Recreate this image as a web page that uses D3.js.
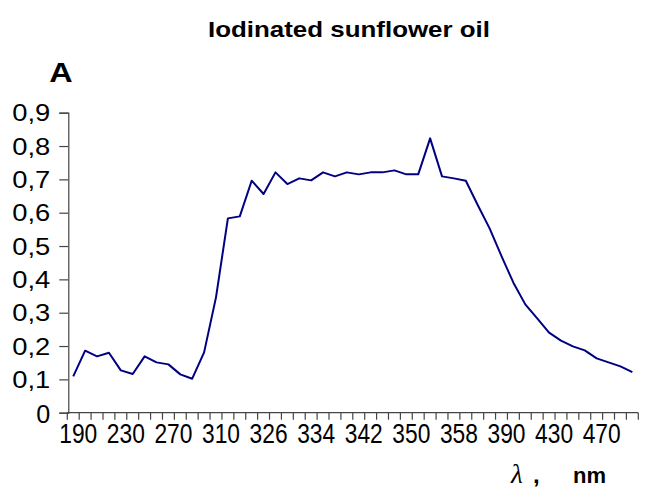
<!DOCTYPE html>
<html>
<head>
<meta charset="utf-8">
<script src="https://cdn.jsdelivr.net/npm/d3@7"></script>
<style>
  body { margin: 0; background: #fff; }
  svg text { font-family: "Liberation Sans", Arial, sans-serif; fill: #000; }
</style>
</head>
<body>
<div id="chart"></div>
<script>
// wavelengths (nm) - one category per measurement
const wavelengths = [190, 200, 210, 220, 230, 240, 250, 260, 270, 280, 290, 300,
    310, 314, 318, 322, 326, 328, 330, 332, 334, 336, 338, 340, 342, 344, 346, 348,
    350, 352, 354, 356, 358, 366, 374, 382, 390, 400, 410, 420, 430, 440, 450, 460,
    470, 480, 490, 500]

// absorbance
const absorbance = [0.109, 0.186, 0.169, 0.180, 0.127, 0.116, 0.169, 0.151, 0.145, 0.115,
    0.102, 0.181, 0.346, 0.583, 0.589, 0.696, 0.656, 0.721, 0.686, 0.703, 0.697, 0.721,
    0.709, 0.721, 0.715, 0.721, 0.721, 0.727, 0.715, 0.715, 0.823, 0.709, 0.703, 0.696,
    0.623, 0.553, 0.470, 0.390, 0.325, 0.283, 0.240, 0.216, 0.199, 0.187, 0.163, 0.151,
    0.139, 0.122]

const xTickLabels = [190, 230, 270, 310, 326, 334, 342, 350, 358, 390, 430, 470]
const yTicks = [0, 0.1, 0.2, 0.3, 0.4, 0.5, 0.6, 0.7, 0.8, 0.9]

const data = wavelengths.map((w, i) => ({ w: String(w), a: absorbance[i] }))

const width = 647
const height = 496

const svg = d3.select("#chart").append("svg")
    .attr("width", width)
    .attr("height", height)

// scales
const xScale = d3.scaleBand()
    .domain(data.map(d => d.w))
    .range([67.3, 638.3])
    .padding(0)

const yScale = d3.scaleLinear()
    .domain([0, 0.9])
    .range([412.7, 112.7])

const axisColor = "#444"

// y axis
const yAxisGenerator = d3.axisLeft(yScale)
    .tickValues(yTicks)
    .tickSize(9)
    .tickPadding(9)
    .tickFormat(d => d === 0 ? "0" : d3.format(".1f")(d).replace(".", ","))

const yAxis = svg.append("g")
    .attr("transform", `translate(${xScale.range()[0] + 1},0)`)
    .call(yAxisGenerator)

yAxis.select(".domain").attr("stroke", axisColor).attr("stroke-width", 1.2)
yAxis.selectAll(".tick line").attr("stroke", axisColor).attr("stroke-width", 1.2)
yAxis.selectAll(".tick text")
    .attr("font-family", "Liberation Sans, Arial, sans-serif")
    .attr("font-size", d => d === 0 ? 26 : 23)
    .attr("fill", "#000")
    .attr("dy", "0.36em")
    .attr("textLength", d => d === 0 ? 14 : 38)
    .attr("lengthAdjust", "spacingAndGlyphs")

// x axis: ticks between categories, Excel style
const xAxis = svg.append("g")
    .attr("transform", `translate(0,${yScale(0)})`)

xAxis.append("line")
    .attr("x1", xScale.range()[0])
    .attr("x2", xScale.range()[1])
    .attr("stroke", axisColor)
    .attr("stroke-width", 1.2)

const boundaries = data.map(d => xScale(d.w)).concat([xScale.range()[1]])
xAxis.selectAll(".xtick")
    .data(boundaries)
    .enter().append("line")
    .attr("class", "xtick")
    .attr("x1", d => d)
    .attr("x2", d => d)
    .attr("y1", 0)
    .attr("y2", 7)
    .attr("stroke", axisColor)
    .attr("stroke-width", 1.2)

xAxis.selectAll(".xlabel")
    .data(xTickLabels)
    .enter().append("text")
    .attr("class", "xlabel")
    .attr("x", d => xScale(String(d)) + xScale.bandwidth() / 2 + 5)
    .attr("y", 30.6)
    .attr("text-anchor", "middle")
    .attr("font-size", 27)
    .attr("textLength", 38)
    .attr("lengthAdjust", "spacingAndGlyphs")
    .text(d => d)

// series line
const line = d3.line()
    .x(d => xScale(d.w) + xScale.bandwidth() / 2)
    .y(d => yScale(d.a))

svg.append("path")
    .datum(data)
    .attr("fill", "none")
    .attr("stroke", "#000080")
    .attr("stroke-width", 2)
    .attr("stroke-linejoin", "round")
    .attr("d", line)

// title
svg.append("text")
    .attr("x", 349)
    .attr("y", 37.3)
    .attr("text-anchor", "middle")
    .attr("font-weight", "bold")
    .attr("font-size", 22)
    .attr("textLength", 282)
    .attr("lengthAdjust", "spacingAndGlyphs")
    .text("Iodinated sunflower oil")

// y axis label
svg.append("text")
    .attr("x", 49.3)
    .attr("y", 81.7)
    .attr("font-weight", "bold")
    .attr("font-size", 28)
    .attr("textLength", 23.4)
    .attr("lengthAdjust", "spacingAndGlyphs")
    .text("A")

// x axis label
const xLabel = svg.append("text")
    .attr("y", 483.3)

xLabel.append("tspan")
    .attr("x", 511)
    .style("font-family", "'Liberation Serif', 'DejaVu Serif', serif")
    .attr("font-style", "italic")
    .attr("font-size", 27)
    .text("λ")

xLabel.append("tspan")
    .attr("x", 533)
    .attr("font-weight", "bold")
    .attr("font-size", 24)
    .text(",")

xLabel.append("tspan")
    .attr("x", 573)
    .attr("font-weight", "bold")
    .attr("font-size", 22)
    .text("nm")
</script>
</body>
</html>
